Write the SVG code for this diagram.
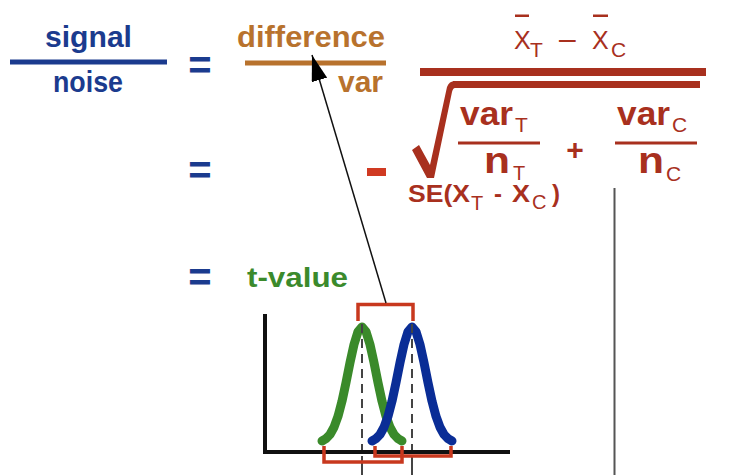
<svg xmlns="http://www.w3.org/2000/svg" width="734" height="475" viewBox="0 0 734 475">
<style>
text{font-family:"Liberation Sans",Arial,sans-serif;}
.b{font-weight:bold;}
.blue{fill:#1b3b8e;}
.org{fill:#b8722d;}
.red{fill:#a8301e;}
.grn{fill:#3b8a2c;}
.curve{fill:none;stroke-width:9;stroke-linejoin:round;stroke-linecap:round;}
.brk{fill:none;stroke:#c8381e;stroke-width:3.5;}
.dash{stroke:#444;stroke-width:2;stroke-dasharray:9 6;}
</style>
<defs>
<marker id="ah2" viewBox="0 0 26 16" refX="26" refY="8" markerWidth="26" markerHeight="16" markerUnits="userSpaceOnUse" orient="auto">
<path d="M0 0 L26 8 L0 16 Z" fill="#000"/>
</marker>
</defs>
<rect width="734" height="475" fill="#fff"/>

<g id="signal-noise">
<text class="b blue" x="88.5" y="47" font-size="29" text-anchor="middle" textLength="87" lengthAdjust="spacingAndGlyphs">signal</text>
<rect class="blue" x="10" y="59.5" width="157" height="5"/>
<text class="b blue" x="88" y="92" font-size="29" text-anchor="middle" textLength="70" lengthAdjust="spacingAndGlyphs">noise</text>
</g>

<g id="eq1"><text class="b blue" x="200" y="79" font-size="40" text-anchor="middle">=</text></g>
<g id="eq2"><text class="b blue" x="200" y="184" font-size="40" text-anchor="middle">=</text></g>
<g id="eq3"><text class="b blue" x="200" y="291" font-size="40" text-anchor="middle">=</text></g>

<g id="difference-var">
<text class="b org" x="237" y="47" font-size="29" textLength="148" lengthAdjust="spacingAndGlyphs">difference</text>
<rect class="org" x="245" y="60.5" width="141" height="5"/>
<text class="b org" x="383" y="92" font-size="29" text-anchor="end" textLength="45" lengthAdjust="spacingAndGlyphs">var</text>
</g>

<g id="t-formula">
<text class="red" x="514" y="49" font-size="25">X</text>
<text class="red" x="530" y="57" font-size="21">T</text>
<text class="red" x="559" y="49" font-size="30">–</text>
<text class="red" x="592" y="49" font-size="25">X</text>
<text class="red" x="611" y="57" font-size="21">C</text>
<rect class="red" x="515" y="14.5" width="14" height="2.5"/>
<rect class="red" x="593" y="14.5" width="15" height="2.5"/>
<rect class="red" x="420" y="68" width="286" height="8"/>
<rect class="red" x="453" y="81" width="247" height="7"/>
<path class="red" d="M412 150 L419 145 L430 165 L447 87 Q449 81 455 81 L455 88 Q453 88 452 92 L434 178 L427 178 Z"/>
<text class="b red" x="460" y="125" font-size="34" textLength="53" lengthAdjust="spacingAndGlyphs">var</text>
<text class="red" x="515" y="132" font-size="21">T</text>
<rect class="red" x="458" y="141.5" width="82" height="3"/>
<text class="b red" x="484" y="173" font-size="36" textLength="26" lengthAdjust="spacingAndGlyphs">n</text>
<text class="red" x="513" y="180" font-size="20">T</text>
<text class="b red" x="575" y="160" font-size="30" text-anchor="middle">+</text>
<text class="b red" x="617" y="125" font-size="34" textLength="53" lengthAdjust="spacingAndGlyphs">var</text>
<text class="red" x="672" y="132" font-size="21">C</text>
<rect class="red" x="615" y="141.5" width="82" height="3"/>
<text class="b red" x="638" y="173" font-size="36" textLength="26" lengthAdjust="spacingAndGlyphs">n</text>
<text class="red" x="666" y="181" font-size="21">C</text>
</g>

<g id="minus"><rect x="367" y="168" width="19" height="8" fill="#d03a22"/></g>

<g id="se-label">
<text class="b red" x="408" y="202" font-size="24" textLength="62" lengthAdjust="spacingAndGlyphs">SE(X</text>
<text class="red" x="471" y="210" font-size="20">T</text>
<text class="b red" x="494" y="202" font-size="24">-</text>
<text class="b red" x="512" y="202" font-size="24" textLength="18" lengthAdjust="spacingAndGlyphs">X</text>
<text class="red" x="532" y="209" font-size="20">C</text>
<text class="b red" x="552" y="202" font-size="24">)</text>
</g>

<g id="t-value"><text class="b grn" x="247" y="287" font-size="28" textLength="101" lengthAdjust="spacingAndGlyphs">t-value</text></g>

<g id="graph">
<path d="M265 314 V452 H510" fill="none" stroke="#111" stroke-width="4"/>
<polyline class="curve" stroke="#3a8a2a" points="322,441 326,438.7 330,434.5 334,427.3 338,416.3 342,401.2 346,382.6 350,362.6 354,344.5 358,331.6 362,327 366,331.6 370,344.5 374,362.6 378,382.6 382,401.2 386,416.3 390,427.3 394,434.5 398,438.7 402,441"/>
<polyline class="curve" stroke="#0a2d96" points="372,441 376,438.7 380,434.5 384,427.3 388,416.3 392,401.2 396,382.6 400,362.6 404,344.5 408,331.6 412,327 416,331.6 420,344.5 424,362.6 428,382.6 432,401.2 436,416.3 440,427.3 444,434.5 448,438.7 452,441"/>
<line class="dash" x1="362" y1="324" x2="362" y2="450"/>
<line class="dash" x1="412" y1="324" x2="412" y2="450"/>
<line x1="362" y1="456" x2="362" y2="475" stroke="#444" stroke-width="2"/>
<line x1="412" y1="456" x2="412" y2="475" stroke="#444" stroke-width="2"/>
<path class="brk" d="M358 321 V304.5 H413 V321" stroke-width="4"/>
<path class="brk" d="M324 446 V462 H402 V446"/>
<path class="brk" d="M375 446 V456 H451 V446"/>
</g>

<g id="connectors">
<line x1="386" y1="303" x2="312" y2="55" stroke="#111" stroke-width="1.5" marker-end="url(#ah2)"/>
<line x1="614.5" y1="188" x2="614.5" y2="475" stroke="#555" stroke-width="2"/>
</g>
</svg>
